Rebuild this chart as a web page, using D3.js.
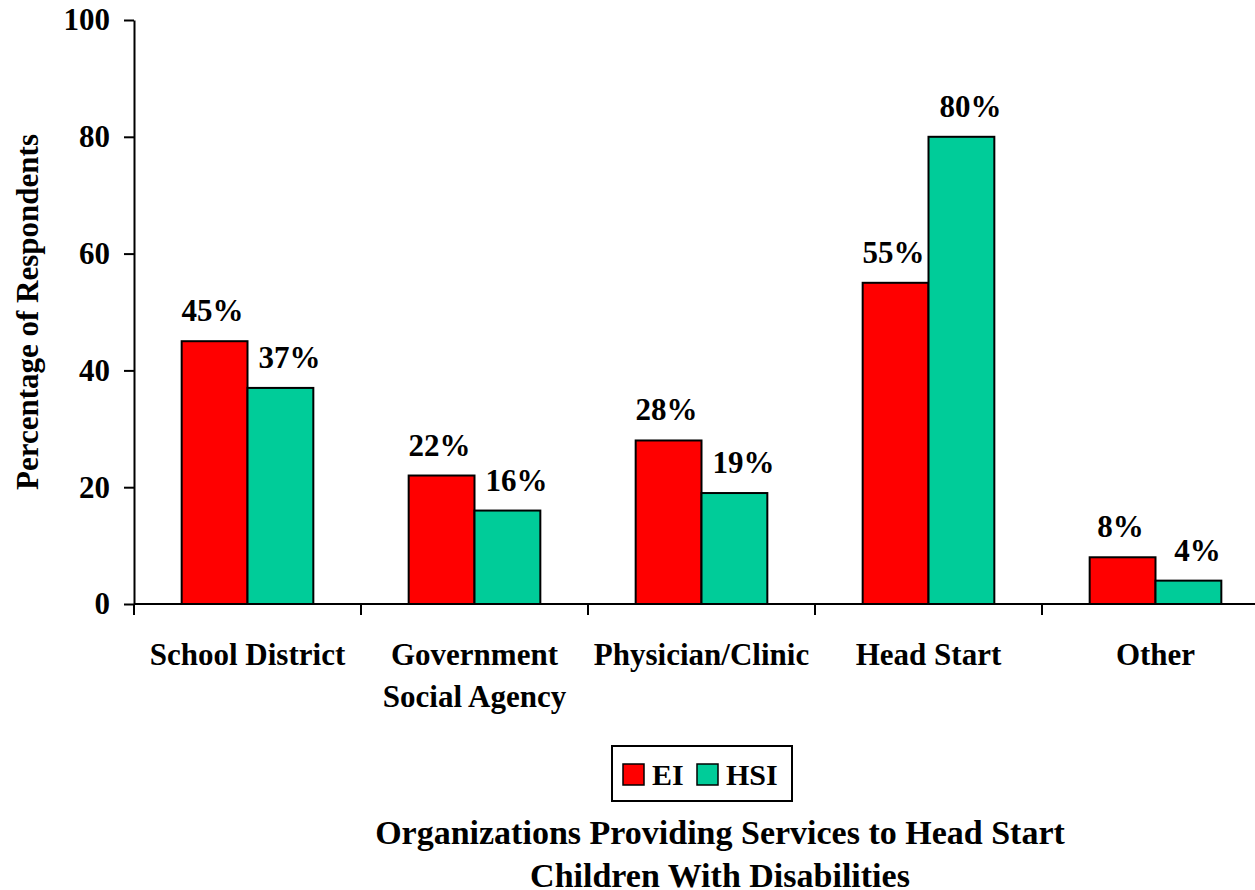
<!DOCTYPE html>
<html>
<head>
<meta charset="utf-8">
<title>Organizations Providing Services</title>
<style>
body { margin: 0; background: #fff; }
svg text { font-family: "Times New Roman", Times, "Liberation Serif", serif; font-weight: bold; fill: #000; }
.axis path, .axis line { stroke: #000; stroke-width: 2px; }
rect.bar { stroke: #000; stroke-width: 2px; }
</style>
</head>
<body>
<script src="https://cdn.jsdelivr.net/npm/d3@7"></script>
<script>
var categories = [["School District"], ["Government", "Social Agency"], ["Physician/Clinic"], ["Head Start"], ["Other"]];
var series = ["EI", "HSI"];
var eiValues = [45, 22, 28, 55, 8];
var hsiValues = [37, 16, 19, 80, 4];
var yTicks = [0, 20, 40, 60, 80, 100];
var colors = ["#ff0000", "#00cc99"];

var width = 1255, height = 890;
var x0 = 134, yTop = 20, yBottom = 604, band = 227;
var serif = '"Times New Roman", Times, "Liberation Serif", serif';

var svg = d3.select("body").append("svg")
  .attr("width", width)
  .attr("height", height);

var x = d3.scaleBand()
  .domain(d3.range(categories.length))
  .range([x0, x0 + band * categories.length]);

var y = d3.scaleLinear().domain([0, 100]).range([yBottom, yTop]);

var barW = x.bandwidth() * 0.29;

// y axis
var yAxis = svg.append("g")
  .attr("class", "axis")
  .attr("transform", "translate(" + x0 + ",0)")
  .call(d3.axisLeft(y).tickValues(yTicks).tickSize(10).tickSizeOuter(0).tickPadding(14));
yAxis.attr("font-family", null).attr("font-size", null);
yAxis.selectAll("text").style("font-size", "31px").style("font-family", serif);

// x axis line with band ticks
var xAxis = svg.append("g").attr("class", "axis");
xAxis.append("line")
  .attr("x1", x0).attr("x2", x0 + band * categories.length)
  .attr("y1", yBottom).attr("y2", yBottom);
xAxis.selectAll("line.tick")
  .data(d3.range(categories.length + 1))
  .enter().append("line")
  .attr("class", "tick")
  .attr("x1", function(d) { return x0 + d * band; })
  .attr("x2", function(d) { return x0 + d * band; })
  .attr("y1", yBottom).attr("y2", yBottom + 11);

// bars
var data = [];
categories.forEach(function(c, i) {
  data.push({i: i, s: 0, v: eiValues[i]});
  data.push({i: i, s: 1, v: hsiValues[i]});
});

function barX(d) {
  var c = x(d.i) + x.bandwidth() / 2;
  return c - barW + d.s * barW;
}

svg.selectAll("rect.bar")
  .data(data)
  .enter().append("rect")
  .attr("class", "bar")
  .attr("x", barX)
  .attr("y", function(d) { return y(d.v); })
  .attr("width", barW)
  .attr("height", function(d) { return yBottom - y(d.v); })
  .attr("fill", function(d) { return colors[d.s]; });

// value labels (HSI labels sit a little to the right)
svg.selectAll("text.val")
  .data(data)
  .enter().append("text")
  .attr("class", "val")
  .attr("x", function(d) { return barX(d) + barW / 2 + (d.s ? 9 : -2); })
  .attr("y", function(d) { return y(d.v) - 20; })
  .attr("text-anchor", "middle")
  .style("font-size", "31px")
  .text(function(d) { return d.v + "%"; });

// category labels
categories.forEach(function(lines, i) {
  lines.forEach(function(t, j) {
    svg.append("text")
      .attr("x", x(i) + x.bandwidth() / 2)
      .attr("y", 665 + j * 42)
      .attr("text-anchor", "middle")
      .style("font-size", "31px")
      .text(t);
  });
});

// y axis title
svg.append("text")
  .attr("transform", "translate(38,312) rotate(-90)")
  .attr("text-anchor", "middle")
  .style("font-size", "31px")
  .text("Percentage of Respondents");

// legend
var legend = svg.append("g").attr("transform", "translate(612,746)");
legend.append("rect")
  .attr("width", 180).attr("height", 55)
  .attr("fill", "#fff").attr("stroke", "#000").attr("stroke-width", 2);
var legX = [11, 85];
series.forEach(function(s, i) {
  legend.append("rect")
    .attr("x", legX[i]).attr("y", 18)
    .attr("width", 21).attr("height", 21)
    .attr("fill", colors[i]).attr("stroke", "#000").attr("stroke-width", 1.5);
  legend.append("text")
    .attr("x", legX[i] + 29).attr("y", 39)
    .style("font-size", "30px")
    .text(s);
});

// title
["Organizations Providing Services to Head Start", "Children With Disabilities"].forEach(function(t, i) {
  svg.append("text")
    .attr("x", 720).attr("y", 844 + i * 43)
    .attr("text-anchor", "middle")
    .style("font-size", "34px")
    .text(t);
});
</script>
</body>
</html>
